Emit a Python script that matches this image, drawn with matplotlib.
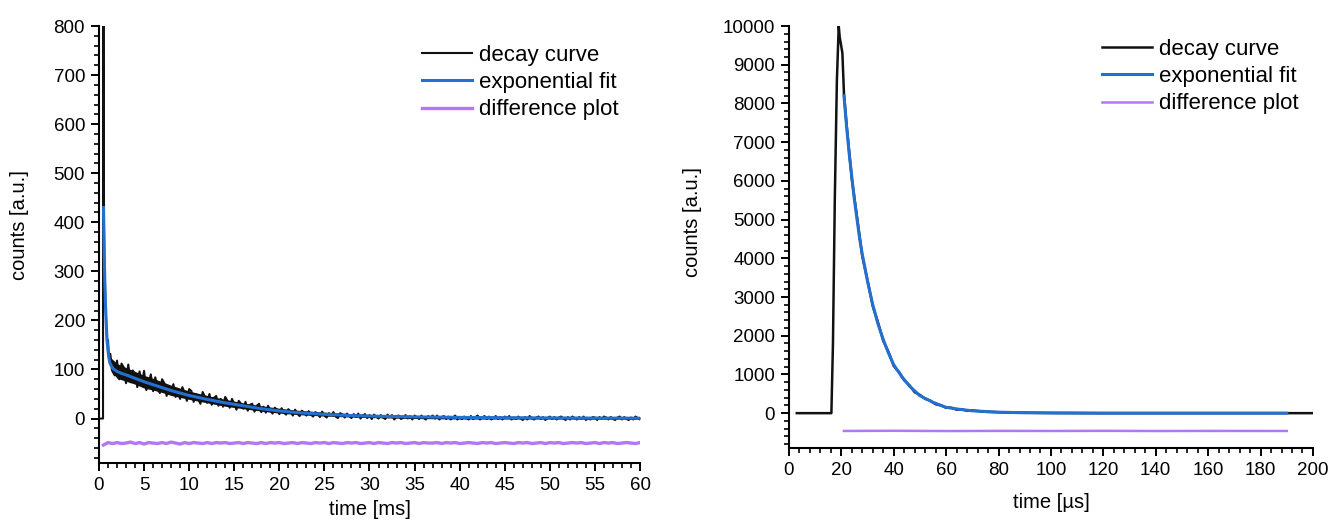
import numpy as np
import matplotlib
matplotlib.use("Agg")
import matplotlib.pyplot as plt
from matplotlib.ticker import MultipleLocator

plt.rcParams['font.family'] = ['Liberation Sans', 'DejaVu Sans']

BLACK = '#111111'
BLUE = '#2370d0'
PURPLE = '#b277f2'

# ---- left panel: ms decay ----
# start of the decay curve (laser spike)
ms_head_t = [0.1, 0.45, 0.46, 0.53, 0.56, 0.6, 0.65, 0.7, 0.8, 0.9, 1.0, 1.1]
ms_head_y = [0, 0, 820, 820, 400, 330, 290, 240, 200, 150, 160, 125]
# noisy tail, sampled every 0.25 ms starting at 1.25 ms
ms_tail_y = [
    132, 96, 88, 118,   80, 112, 104, 72,   110, 74, 98, 90,    64, 96, 68, 97,
    58, 70, 90, 56,     84, 60, 52, 80,     72, 46, 66, 50,     70, 44, 58, 40,
    64, 52, 36, 60,     56, 34, 50, 40,     30, 54, 44, 32,     50, 28, 42, 46,
    26, 40, 24, 44,     36, 22, 40, 30,     18, 36, 30, 20,     34, 16, 28, 30,
    14, 26, 30, 13,     24, 12, 26, 16,     10, 22, 18, 9,      21, 12, 8, 19,
    14, 6, 18, 10,      5, 16, 12, 6,       15, 8, 4, 13,       10, 3, 14, 6,
    2, 11, 7, 13,       4, 1, 11, 8,        2, 10, 5, 1,        9, 3, 10, 0,
    6, 9, 1, 7,         -1, 8, 4, 0,        7, 2, -1, 8,        3, 7, -2, 5,
    6, -1, 2, 7,        0, 5, -2, 6,        3, -1, 6, 1,        -2, 5, 2, 6,
    0, 6, -2, 3,        5, -1, 4, -2,       2, 6, -2, 3,        -1, 4, 1, -2,
    5, -1, 3, 6,        -2, 2, 5, -1,       4, -2, 1, 5,        -1, 3, -2, 4,
    1, 5, -2, 2,        -1, 4, 0, -3,       3, -2, 5, 1,        -2, 2, 4, -1,
    3, -3, 1, 4,        -1, 3, -2, 2,       4, 0, -3, 3,        -2, 4, 1, -2,
    3, -1, 4, -3,       1, -2, 3, 2,        -3, 3, -1, 4,       2, -2, 3, -1,
    -3, 2, 4, -2,       3, -1, -3, 2,       -2, 4, 1, -2,
]
# inner spread of the noisy band (lower / upper edge)
ms_band_t = [1.25, 2, 3, 4, 5, 6, 7, 8, 9, 10, 12, 14, 16, 18, 20, 22, 25, 28,
             30, 35, 40, 50, 60]
ms_band_lo = [100, 82, 76, 70, 62, 58, 53, 47, 43, 39, 32, 25, 20, 15, 11, 8, 5,
              3, 2, 0, -1, -1, -1.5]
ms_band_hi = [125, 112, 104, 96, 88, 82, 75, 68, 62, 56, 47, 39, 32, 26, 21, 17,
              13, 10, 8, 6, 5, 4, 3.5]
ms_fit_t = [0.5, 0.55, 0.6, 0.65, 0.7, 0.8, 0.9, 1.0, 1.1, 1.2, 1.4, 1.6, 2.0,
            2.5, 3, 4, 5, 6, 7, 8, 9, 10, 12, 14, 16, 18, 20, 22, 25, 28, 30, 35,
            40, 45, 50, 55, 60]
ms_fit_y = [430, 370, 320, 280, 245, 195, 160, 138, 124, 114, 106, 101, 96,
            92, 89, 82, 75, 69, 63, 57, 52, 47, 39, 32, 26, 20, 15.5, 12, 8.5, 6,
            5, 3.3, 2.3, 1.6, 1.2, 0.9, 0.7]
# residuals, shifted down by 50, every 0.5 ms from 0.5 ms
ms_diff_y = [
    -54, -49, -51, -49, -51, -50, -48, -51, -49, -52, -49, -50, -51, -49, -51, -48,
    -50, -52, -49, -51, -49, -50, -51, -49, -51, -49, -50, -49, -51, -50, -49, -51,
    -49, -50, -51, -49, -51, -49, -50, -49, -51, -50, -49, -51, -49, -50, -51, -49,
    -50, -49, -51, -49, -50, -51, -49, -50, -49, -51, -50, -49, -51, -49, -50, -51,
    -49, -50, -49, -51, -50, -49, -51, -49, -50, -50, -49, -51, -49, -50, -49, -51,
    -50, -49, -50, -51, -49, -50, -49, -51, -50, -49, -50, -51, -49, -50, -49, -51,
    -50, -49, -51, -49, -50, -49, -51, -50, -49, -50, -49, -51, -50, -49, -51, -49,
    -50, -49, -51, -50, -49, -50, -51, -49,
]

# ---- right panel: us decay ----
us_decay_t = [3, 16.2, 16.8, 17.5, 18.3, 19.0, 19.4, 19.8, 20.4, 21,
              22, 24, 26, 28, 30, 32, 34, 36, 38, 40, 42, 44, 46, 48, 50, 52, 54,
              56, 58, 60, 62, 64, 66, 68, 70, 75, 80, 85, 90, 100, 120, 150, 190, 200]
us_decay_y = [0, 0, 1800, 5500, 8600, 10000, 9700, 9550, 9300, 8250,
              7450, 6050, 5060, 4050, 3430, 2760, 2340, 1870, 1580, 1220, 1060, 850,
              720, 540, 470, 370, 320, 230, 200, 140, 140, 90, 100, 60, 70, 35, 25,
              10, 12, 5, 0, 0, 0, 0]
us_fit_t = [21, 22, 23, 24, 25, 26, 27, 28, 30, 32, 34, 36, 38, 40, 43, 46, 50,
            55, 60, 65, 70, 80, 90, 100, 120, 190]
us_fit_y = [8200, 7400, 6700, 6100, 5500, 5000, 4500, 4100, 3400, 2800, 2300,
            1900, 1550, 1250, 950, 700, 450, 280, 150, 100, 60, 25, 10, 5, 0, 0]
us_diff_t = [21, 40, 60, 80, 100, 120, 140, 160, 190]
us_diff_y = [-460, -455, -462, -458, -460, -457, -461, -459, -460]

ms_tail_t = 1.25 + 0.25 * np.arange(len(ms_tail_y))
ms_diff_t = 0.5 + 0.5 * np.arange(len(ms_diff_y))

fig = plt.figure(figsize=(13.32, 5.32), dpi=100)
ax1 = fig.add_axes([0.0743, 0.1303, 0.4062, 0.8208])
ax2 = fig.add_axes([0.5923, 0.1579, 0.3934, 0.7932])

ax1.fill_between(ms_band_t, ms_band_lo, ms_band_hi, color=BLACK, lw=0)
ax1.plot(list(ms_head_t) + list(ms_tail_t), ms_head_y + ms_tail_y,
         color=BLACK, lw=1.5, label='decay curve')
ax1.plot(ms_fit_t, ms_fit_y, color=BLUE, lw=2.2, label='exponential fit')
ax1.plot(ms_diff_t, ms_diff_y, color=PURPLE, lw=2.4, label='difference plot')

ax2.plot(us_decay_t, us_decay_y, color=BLACK, lw=1.8, label='decay curve')
ax2.plot(us_fit_t, us_fit_y, color=BLUE, lw=2.2, label='exponential fit')
ax2.plot(us_diff_t, us_diff_y, color=PURPLE, lw=1.8, label='difference plot')

ax1.set_xlim(0, 60)
ax1.set_ylim(-90, 800)
ax1.xaxis.set_major_locator(MultipleLocator(5))
ax1.xaxis.set_minor_locator(MultipleLocator(1))
ax1.yaxis.set_major_locator(MultipleLocator(100))
ax1.yaxis.set_minor_locator(MultipleLocator(20))
ax1.set_xlabel('time [ms]', fontsize=14.5)
ax1.set_ylabel('counts [a.u.]', fontsize=14.5)

ax2.set_xlim(0, 200)
ax2.set_ylim(-900, 10000)
ax2.xaxis.set_major_locator(MultipleLocator(20))
ax2.xaxis.set_minor_locator(MultipleLocator(4))
ax2.yaxis.set_major_locator(MultipleLocator(1000))
ax2.yaxis.set_minor_locator(MultipleLocator(200))
ax2.set_xlabel('time [µs]', fontsize=14.5)
ax2.set_ylabel('counts [a.u.]', fontsize=14.5)

for ax in (ax1, ax2):
    ax.spines['top'].set_visible(False)
    ax.spines['right'].set_visible(False)
    ax.spines['left'].set_linewidth(1.5)
    ax.spines['bottom'].set_linewidth(1.5)
    ax.tick_params(which='major', direction='out', length=6, width=1.4,
                   labelsize=13.5, pad=4)
    ax.tick_params(which='minor', direction='out', length=3.5, width=1.2)

ax1.xaxis.set_label_coords(0.5, -0.085)
ax1.yaxis.set_label_coords(-0.13, 0.545)
ax2.xaxis.set_label_coords(0.5, -0.107)
ax2.yaxis.set_label_coords(-0.165, 0.536)

leg_kw = dict(loc='upper left', frameon=False, fontsize=16, handlelength=2.25,
              handletextpad=0.35, labelspacing=0.28, borderpad=0, borderaxespad=0)
ax1.legend(bbox_to_anchor=(0.3166, 0.9154), bbox_transform=fig.transFigure, **leg_kw)
ax2.legend(bbox_to_anchor=(0.8271, 0.9267), bbox_transform=fig.transFigure, **leg_kw)

fig.savefig('out.png', dpi=100)
